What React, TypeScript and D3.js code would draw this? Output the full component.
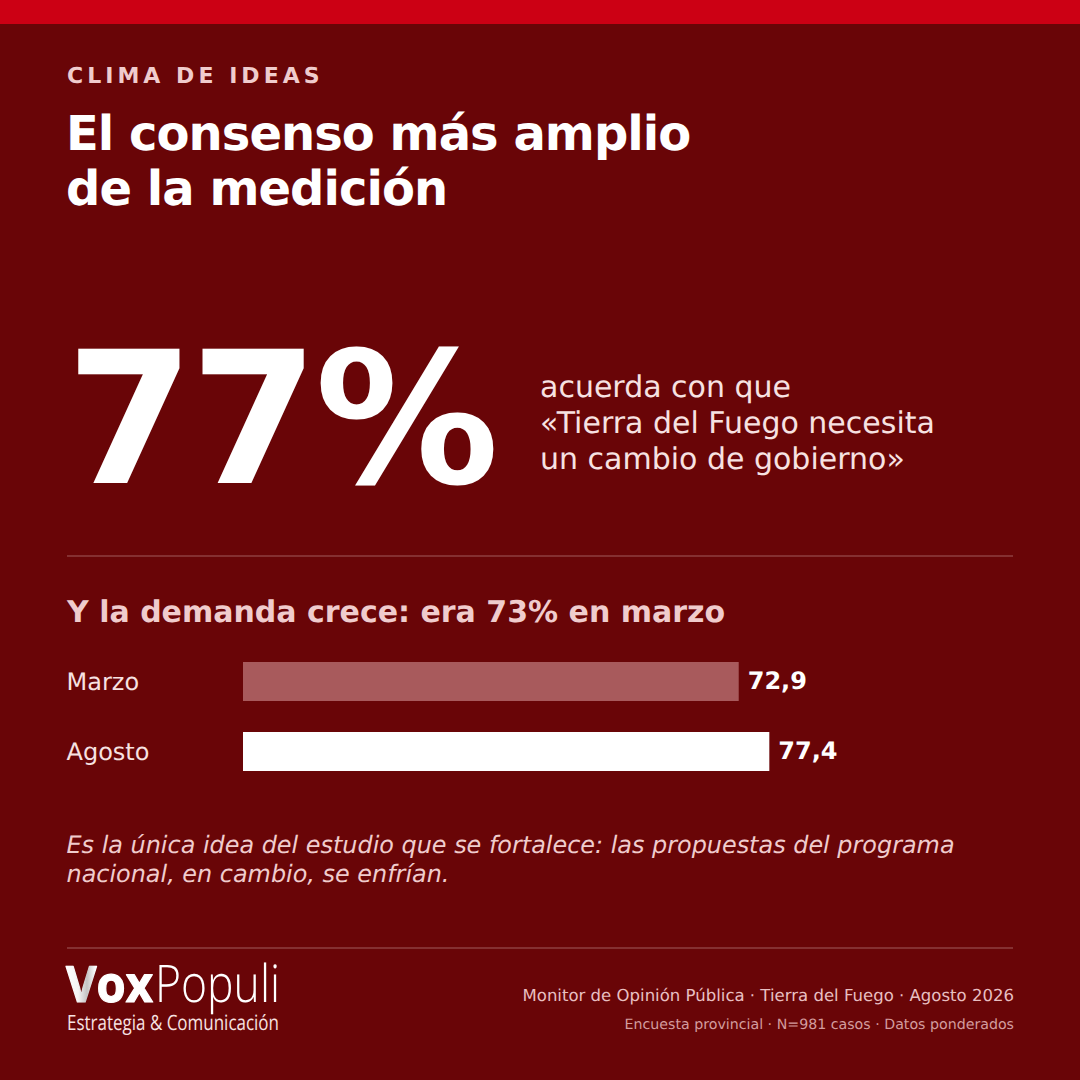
import React from "react";
import * as d3 from "d3";

const categories = ["Marzo", "Agosto"];
const values = [72.9, 77.4];
const valueLabels = ["72,9", "77,4"];
const barColors = ["#a85a5c", "#ffffff"];
const titleLines = ["El consenso más amplio", "de la medición"];
const statementLines = ["acuerda con que", "«Tierra del Fuego necesita", "un cambio de gobierno»"];
const noteLines = ["Es la única idea del estudio que se fortalece: las propuestas del programa", "nacional, en cambio, se enfrían."];

const F = "'DejaVu Sans', sans-serif";
const LOGO = "'Open Sans', sans-serif";
const BG = "#690507";
const PINK = "#f0cccd";
const SOFT = "#f7e2e2";

export default function App() {
  const x = d3.scaleLinear().domain([0, 100]).range([243, 923]);
  const y = d3.scaleBand<string>().domain(categories).range([646.5, 786.5]).paddingInner(31 / 70).paddingOuter(31 / 140);
  return (
    <svg width={1080} height={1080} viewBox="0 0 1080 1080" style={{ position: "absolute", left: 0, top: 0 }} fontFamily={F} textRendering="geometricPrecision">
      <defs>
        <linearGradient id="vg" x1="0" y1="0" x2="1" y2="0">
          <stop offset="0" stopColor="#ffffff" />
          <stop offset="0.14" stopColor="#f4f4f4" />
          <stop offset="0.24" stopColor="#c4c4c4" />
          <stop offset="0.34" stopColor="#ffffff" />
        </linearGradient>
      </defs>
      <rect width={1080} height={1080} fill={BG} />
      <rect width={1080} height={24} fill="#cc0014" />
      <g>
        <text x={67} y={83} fontSize={22} fontWeight={700} letterSpacing={4.03} fill={PINK}>CLIMA DE IDEAS</text>
        {titleLines.map((t, i) => (
          <text key={t} x={66} y={150 + i * 55} fontSize={48} fontWeight={700} letterSpacing={-0.96} fill="#ffffff">{t}</text>
        ))}
        <text x={66} y={483} fontSize={184} fontWeight={700} letterSpacing={-3.68} fill="#ffffff">77%</text>
        {statementLines.map((t, i) => (
          <text key={t} x={540} y={397 + i * 36} fontSize={30} fill={SOFT}>{t}</text>
        ))}
        <text x={67} y={622} fontSize={30} fontWeight={700} fill={PINK}>Y la demanda crece: era 73% en marzo</text>
        {categories.map((c, i) => {
          const by = y(c)!;
          const h = y.bandwidth();
          return (
            <g key={c}>
              <text x={66.5} y={by + h / 2 + 8.2} fontSize={24} fill={SOFT}>{c}</text>
              <text x={x(values[i]) + 9} y={by + h / 2 + 7.2} fontSize={24} fontWeight={700} fill="#ffffff">{valueLabels[i]}</text>
            </g>
          );
        })}
        {noteLines.map((t, i) => (
          <text key={t} x={66.5} y={853 + i * 29} fontSize={23.92} fontStyle="italic" fill={PINK}>{t}</text>
        ))}
        <text x={66} y={1002} fontSize={50} fontWeight={700} stroke="#ffffff" strokeWidth={1.2} strokeLinejoin="round" fill="#ffffff" fontFamily={LOGO} textLength={87} lengthAdjust="spacingAndGlyphs"><tspan fill="url(#vg)" stroke="url(#vg)">V</tspan>ox</text>
        <text x={155} y={1002} fontSize={52} fill="#ffffff" fontFamily={LOGO} fontWeight={300} textLength={125} lengthAdjust="spacingAndGlyphs">Populi</text>
        <text x={67} y={1030} fontSize={21} fill={SOFT} fontFamily={LOGO} textLength={212} lengthAdjust="spacingAndGlyphs">Estrategia &amp; Comunicación</text>
        <text x={1014} y={1001} fontSize={16.55} textAnchor="end" fill="#e8bfc1">Monitor de Opinión Pública · Tierra del Fuego · Agosto 2026</text>
        <text x={1014} y={1029} fontSize={14.2} textAnchor="end" fill="#d39c9e">Encuesta provincial · N=981 casos · Datos ponderados</text>
      </g>
      <line x1={67} x2={1013} y1={556} y2={556} stroke="#8f3f41" strokeWidth={1.5} />
      <line x1={67} x2={1013} y1={948} y2={948} stroke="#8f3f41" strokeWidth={1.5} />
      {categories.map((c, i) => (
        <rect key={c} x={x(0)} y={y(c)!} width={x(values[i]) - x(0)} height={y.bandwidth()} fill={barColors[i]} />
      ))}
    </svg>
  );
}
